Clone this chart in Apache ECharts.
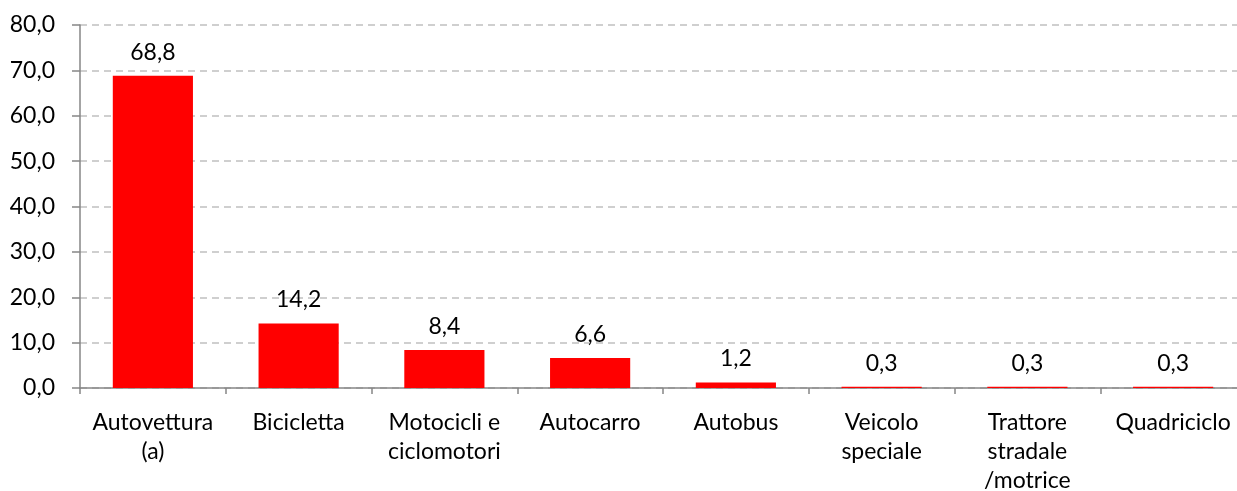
<!DOCTYPE html>
<html>
<head>
<meta charset="utf-8">
<script src="https://cdn.jsdelivr.net/npm/echarts@6/dist/echarts.min.js"></script>
<style>
  html, body { margin: 0; padding: 0; background: #fff; }
  #main { width: 1237px; height: 491px; }
</style>
</head>
<body>
<div id="main"></div>
<script>
const categories = ['Autovettura\n(a)', 'Bicicletta', 'Motocicli e\nciclomotori', 'Autocarro', 'Autobus', 'Veicolo\nspeciale', 'Trattore\nstradale\n/motrice', 'Quadriciclo']
const values = [68.8, 14.2, 8.4, 6.6, 1.2, 0.3, 0.3, 0.3]
const yTicks = { min: 0, max: 80, interval: 10 }

const fmt = v => Number(v).toFixed(1).replace('.', ',')
const font = 'Lato, "Liberation Sans", sans-serif'

const myChart = echarts.init(document.getElementById('main'))
myChart.setOption({
    animation: false,
    grid: { left: 80, top: 25, width: 1166, height: 363, containLabel: false, outerBoundsMode: 'none' },
    xAxis: {
        type: 'category',
        data: categories,
        axisLine: { lineStyle: { color: '#868686', width: 1.5 } },
        axisTick: { show: true, length: 6, lineStyle: { color: '#868686', width: 1.5 } },
        axisLabel: { interval: 0, margin: 20, color: '#000', fontFamily: font, fontSize: 23, lineHeight: 29 }
    },
    yAxis: {
        type: 'value',
        min: yTicks.min,
        max: yTicks.max,
        interval: yTicks.interval,
        axisLine: { show: true, lineStyle: { color: '#868686', width: 1.5 } },
        axisTick: { show: true, length: 8, lineStyle: { color: '#868686', width: 1.5 } },
        axisLabel: { margin: 25, color: '#000', fontFamily: font, fontSize: 23, formatter: fmt },
        splitLine: { lineStyle: { color: '#c0c0c0', width: 1.5, type: [7, 5] } }
    },
    series: [{
        type: 'bar',
        data: values,
        barWidth: '55%',
        itemStyle: { color: '#ff0000' },
        label: {
            show: true,
            position: 'top',
            distance: 12,
            color: '#000',
            fontFamily: font,
            fontSize: 23,
            formatter: p => fmt(p.value)
        }
    }]
})
</script>
</body>
</html>
